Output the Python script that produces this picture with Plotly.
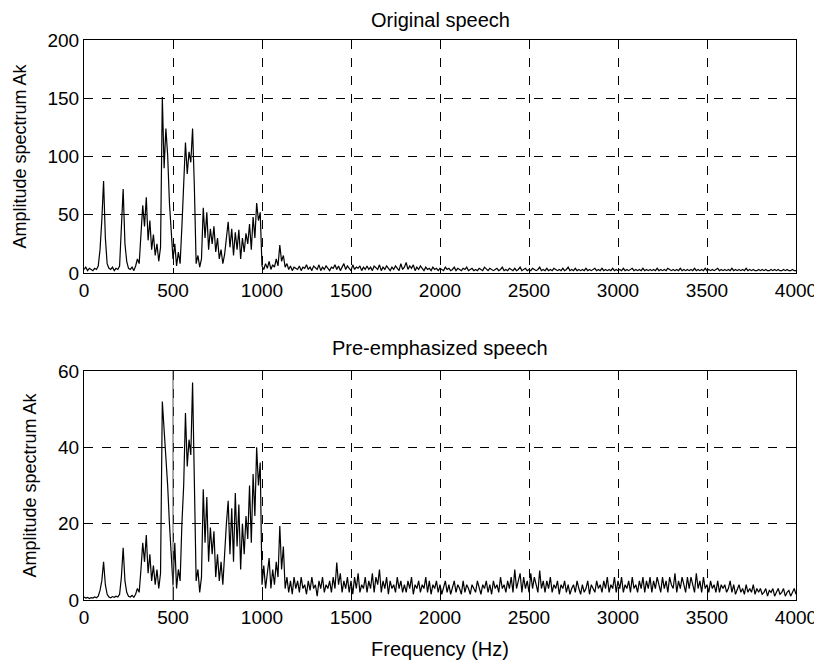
import numpy as np
import plotly.graph_objects as go
from plotly.subplots import make_subplots

# frequency axis, 10 Hz steps, 0..4000 Hz
freq = np.arange(0, 4001, 10)

# amplitude spectrum of the original speech
orig_amp = [
    3, 5, 2, 4, 3, 2, 4, 3, 6, 20, 45, 79, 30, 8, 4, 3, 5, 2, 4, 3,
    6, 38, 72, 25, 10, 4, 3, 5, 2, 6, 12, 8, 30, 58, 40, 65, 28, 45, 20, 33,
    15, 25, 10, 22, 151, 90, 124, 101, 60, 35, 12, 25, 6, 18, 8, 40, 78, 112, 85, 104,
    95, 124, 74, 8, 15, 5, 12, 56, 30, 52, 20, 38, 25, 40, 18, 30, 12, 20, 8, 16,
    30, 44, 22, 38, 15, 35, 20, 37, 12, 30, 18, 34, 25, 42, 20, 48, 30, 60, 45, 52,
    6, 3, 8, 4, 10, 3, 7, 5, 12, 6, 24, 10, 15, 5, 8, 3, 6, 2, 5, 4,
    3, 6, 2, 5, 4, 7, 3, 5, 2, 6, 4, 3, 7, 2, 5, 3, 6, 4, 2, 5,
    4, 7, 3, 6, 2, 5, 8, 3, 6, 4, 2, 7, 3, 5, 4, 6, 2, 5, 3, 6,
    3, 5, 2, 6, 4, 3, 7, 2, 5, 3, 6, 4, 2, 5, 3, 6, 4, 2, 8, 3,
    5, 9, 3, 6, 4, 7, 2, 5, 3, 6, 4, 2, 5, 3, 4, 2, 5, 3, 4, 2,
    4, 3, 2, 5, 3, 4, 2, 3, 5, 2, 4, 3, 2, 4, 3, 5, 2, 3, 4, 2,
    3, 2, 4, 3, 2, 5, 3, 2, 4, 3, 2, 3, 4, 2, 3, 5, 2, 3, 2, 4,
    3, 2, 4, 2, 3, 5, 2, 3, 4, 2, 3, 2, 4, 3, 2, 3, 5, 2, 3, 2,
    4, 2, 3, 2, 4, 3, 2, 3, 2, 4, 2, 3, 5, 2, 3, 2, 4, 2, 3, 2,
    3, 2, 4, 2, 3, 2, 3, 4, 2, 3, 2, 4, 2, 3, 2, 3, 2, 4, 2, 3,
    2, 3, 2, 4, 2, 3, 2, 3, 4, 2, 3, 2, 3, 2, 4, 2, 3, 2, 3, 2,
    3, 2, 4, 2, 3, 2, 3, 2, 4, 3, 2, 3, 2, 3, 2, 4, 2, 3, 2, 3,
    2, 3, 2, 4, 2, 3, 2, 3, 2, 4, 2, 3, 2, 3, 2, 3, 4, 2, 3, 2,
    3, 2, 3, 2, 4, 2, 3, 2, 3, 2, 3, 2, 4, 2, 3, 2, 3, 2, 2, 3,
    2, 3, 2, 3, 2, 2, 3, 2, 3, 2, 3, 2, 2, 3, 2, 3, 2, 2, 3, 2,
    2,
]

# amplitude spectrum after pre-emphasis
pre_amp = [
    0.8, 0.5, 0.7, 0.4, 0.6, 0.5, 0.8, 0.6, 1, 2.5, 5, 10, 4, 1.5, 0.8, 0.6, 0.9, 0.7, 1, 0.8,
    1.5, 6, 13.7, 5, 2, 1, 0.8, 1.2, 0.7, 1.5, 3, 2, 8, 15, 10, 17, 7, 12, 5, 9,
    4, 8, 3, 7, 52, 45, 36, 30, 20, 12, 4, 15, 3, 8, 5, 20, 30, 49, 35, 42,
    38, 57, 33, 5, 8, 2, 6, 29, 15, 27, 10, 19, 12, 18, 6, 12, 5, 10, 4, 14,
    20, 26, 12, 24, 10, 28, 14, 25, 8, 20, 12, 22, 16, 30, 15, 33, 22, 40, 30, 36,
    4, 9, 3, 7, 11, 3, 8, 4, 10, 6, 19.4, 8, 14, 3, 6, 2, 5, 1.5, 6, 3,
    5, 2, 6, 3, 4, 1.5, 5, 2.5, 6, 3, 4, 1, 5, 3, 6, 2, 4, 3, 5, 2,
    6, 3, 9.8, 4, 7, 2, 5, 3, 6, 2, 5, 1.5, 6, 3, 7, 2, 4, 3, 6, 2,
    5, 3, 7, 2, 6, 4, 8, 2, 5, 3, 6, 1.5, 5, 3, 4, 2, 6, 3, 5, 2,
    4, 2, 5, 3, 6, 1.5, 4, 3, 5, 2, 4, 3, 6, 2, 5, 1.5, 4, 3, 5, 2,
    4, 1.5, 3, 5, 2, 4, 1.5, 3, 5, 2, 4, 3, 1.5, 5, 2, 4, 3, 1.5, 4, 3,
    2, 5, 3, 1.5, 4, 3, 5, 2, 4, 1.5, 5, 3, 4, 2, 6, 3, 4, 2, 5, 3,
    6, 2, 8, 3, 5, 7, 2, 6, 3, 5, 2, 7, 3, 6, 4, 2, 7.7, 3, 5, 2,
    5, 3, 6, 2, 4, 3, 5, 1.5, 4, 3, 5, 2, 4, 1.5, 3, 4, 2, 5, 3, 1.5,
    4, 2, 3, 5, 1.5, 4, 3, 2, 5, 3, 4, 2, 5, 3, 6, 2, 4, 3, 6, 2,
    5, 3, 6, 2, 4, 3, 5, 2, 6, 3, 4, 2, 5, 3, 6, 2, 5, 3, 6, 2,
    5, 3, 6, 4, 2, 6, 3, 5, 2, 6, 4, 3, 7, 2, 5, 3, 6, 4, 2, 6,
    3, 6, 4, 2, 7, 3, 5, 2, 6, 3, 4, 2, 5, 3, 4, 2, 5, 2, 4, 3,
    4, 2, 3, 5, 2, 4, 1.5, 3, 4, 2, 3, 1.5, 4, 2, 3, 2, 4, 1.5, 3, 2,
    3, 1.5, 2, 3, 1, 2.5, 2, 3, 1, 2, 3, 1.5, 2, 3, 1, 2, 2.5, 1, 2, 3,
    1.5,
]

x_ticks = [0, 500, 1000, 1500, 2000, 2500, 3000, 3500, 4000]

fig = make_subplots(rows=2, cols=1, vertical_spacing=0.175)
fig.add_trace(go.Scatter(x=freq, y=orig_amp, mode="lines",
                         line=dict(color="black", width=1.2)), row=1, col=1)
fig.add_trace(go.Scatter(x=freq, y=pre_amp, mode="lines",
                         line=dict(color="black", width=1.2)), row=2, col=1)

font = "Liberation Sans, Arial, sans-serif"
ax_common = dict(showline=True, linecolor="black", linewidth=1, mirror="ticks",
                 ticks="inside", ticklen=5, tickcolor="black", automargin=False,
                 showgrid=True, gridcolor="black", griddash="dash", gridwidth=1,
                 zeroline=False, tickfont=dict(family=font, size=19, color="black"))

fig.update_xaxes(range=[0, 4000], tickvals=x_ticks, **ax_common)
fig.update_yaxes(**ax_common)
fig.update_yaxes(range=[0, 200], tickvals=[0, 50, 100, 150, 200], domain=[0.584, 1], row=1, col=1)
fig.update_yaxes(range=[0, 60], tickvals=[0, 20, 40, 60], domain=[0, 0.409], row=2, col=1)
fig.update_yaxes(title=dict(text="Amplitude spectrum Ak", font=dict(family=font, size=18, color="black"),
                            standoff=16))
fig.update_xaxes(title=dict(text="Frequency (Hz)", font=dict(family=font, size=20, color="black"),
                            standoff=15), row=2, col=1)

# solid line at 500 Hz in the lower panel, as in the source figure
fig.add_shape(type="line", x0=500, x1=500, y0=0, y1=60, xref="x2", yref="y2",
              line=dict(color="#555555", width=1))

fig.add_annotation(text="Original speech", x=0.5, y=1, xref="paper", yref="paper",
                   yanchor="bottom", yshift=7, showarrow=False,
                   font=dict(family=font, size=20, color="black"))
fig.add_annotation(text="Pre-emphasized speech", x=0.5, y=0.409, xref="paper", yref="paper",
                   yanchor="bottom", yshift=10, showarrow=False,
                   font=dict(family=font, size=20, color="black"))

# page body adds an 8px offset, so the figure is sized to fit the window
fig.update_layout(width=814, height=657, showlegend=False,
                  margin=dict(l=76, r=26, t=32, b=65),
                  plot_bgcolor="white", paper_bgcolor="white")

fig.write_html("out.html")
